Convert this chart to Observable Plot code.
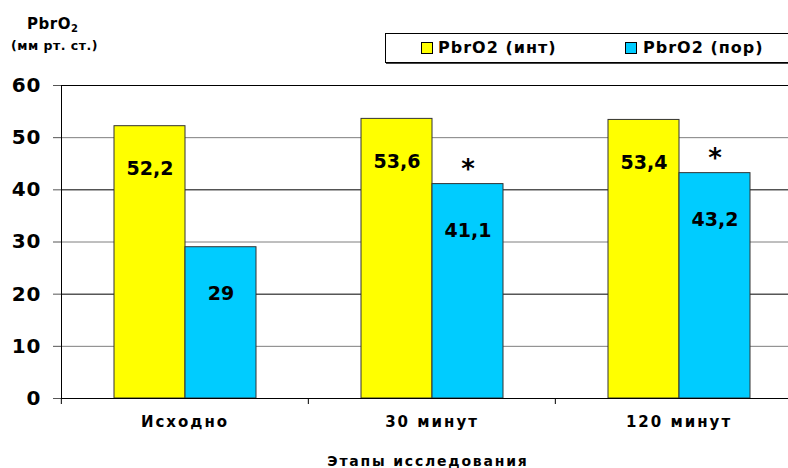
<!DOCTYPE html>
<html>
<head>
<meta charset="utf-8">
<script src="https://cdn.jsdelivr.net/npm/d3@7"></script>
<script src="https://cdn.jsdelivr.net/npm/@observablehq/plot@0.6"></script>
<style>
  html, body { margin: 0; padding: 0; background: white; }
  #wrap { position: relative; width: 788px; height: 468px; overflow: hidden; font-family: "DejaVu Sans", sans-serif; font-weight: bold; color: #000; }
  #wrap svg { position: absolute; left: 0; top: 0; overflow: hidden; }
  .ov { position: absolute; white-space: nowrap; }
  #t1 { left: 27px; top: 15px; font-size: 15px; letter-spacing: 0.5px; }
  #t1 sub { font-size: 10px; vertical-align: -3px; }
  #t2 { left: 11px; top: 38px; font-size: 12.5px; letter-spacing: 0.5px; }
  #legend { left: 385px; top: 33px; width: 404px; height: 28px; border: 1px solid #000; box-shadow: 1px 1px 0 #444; background: white; }
  .sw { position: absolute; top: 8px; width: 10px; height: 10px; border: 1px solid #000; }
  .lt { position: absolute; top: 4px; font-size: 16px; letter-spacing: 1px; line-height: 19px; }
  #xt { left: 0; width: 856px; text-align: center; top: 453px; font-size: 14px; letter-spacing: 1.8px; }
  g[aria-label="fx-axis tick label"] text { letter-spacing: 2px; }
  g[aria-label="y-axis tick label"] text { letter-spacing: 1px; }
</style>
</head>
<body>
<div id="wrap">
  <div class="ov" id="t1">PbrO<sub>2</sub></div>
  <div class="ov" id="t2">(мм рт. ст.)</div>
  <div class="ov" id="legend">
    <div class="sw" style="left:35px;background:#FFFF00"></div>
    <div class="lt" style="left:52px">PbrO2 (инт)</div>
    <div class="sw" style="left:239px;background:#00CCFF"></div>
    <div class="lt" style="left:257px">PbrO2 (пор)</div>
  </div>
  <div class="ov" id="xt">Этапы исследования</div>
</div>
<script>
const stages = ["Исходно", "30 минут", "120 минут"];
const seriesNames = ["PbrO2 (инт)", "PbrO2 (пор)"];
const intValues = [52.2, 53.6, 53.4];
const porValues = [29, 41.1, 43.2];
const porMarks = ["", "*", "*"];
const yTicks = [0, 10, 20, 30, 40, 50, 60];
const darkGrid = [60, 40, 20];
const lightGrid = [50, 30, 10];
const colors = ["#FFFF00", "#00CCFF"];

const intRows = stages.map((s, i) => ({stage: s, series: seriesNames[0], value: intValues[i]}));
const porRows = stages.map((s, i) => ({stage: s, series: seriesNames[1], value: porValues[i], mark: porMarks[i]}));
const rows = intRows.concat(porRows);
const fmt = v => String(v).replace(".", ",");

const W = 788, ML = 60, MR = -14;
const bw = (W - ML - MR) / stages.length;

const chart = Plot.plot({
  width: W, height: 468,
  marginLeft: ML, marginRight: MR, marginTop: 85, marginBottom: 70,
  style: {fontFamily: "DejaVu Sans", fontWeight: "bold", background: "white", color: "black"},
  fx: {domain: stages, padding: 0, label: null},
  x: {domain: seriesNames, paddingInner: 0, paddingOuter: 0.727, axis: null},
  y: {domain: [0, 60], axis: null},
  color: {domain: seriesNames, range: colors},
  marks: [
    Plot.ruleY(lightGrid, {stroke: "#7f7f7f"}),
    Plot.ruleY(darkGrid, {stroke: "#000"}),
    Plot.barY(rows, {fx: "stage", x: "series", y: "value", fill: "series", stroke: "#333", strokeWidth: 1}),
    Plot.ruleY([0], {stroke: "#000"}),
    Plot.frame({anchor: "left", facetAnchor: "left", stroke: "#000"}),
    Plot.axisY({ticks: yTicks, tickSize: 8, tickPadding: 12, fontSize: 20, stroke: "#555", fill: "#000", label: null}),
    Plot.axisFx({anchor: "bottom", tickSize: 6, tickFormat: () => "", dx: -bw / 2, stroke: "#000", label: null}),
    Plot.axisFx({anchor: "bottom", tickSize: 0, tickPadding: 18, fontSize: 15, fill: "#000", label: null}),
    Plot.text(intRows, {fx: "stage", x: "series", y: "value", text: d => fmt(d.value), dy: 43, fontSize: 19, fill: "#000"}),
    Plot.text(porRows, {fx: "stage", x: "series", y: "value", text: d => fmt(d.value), dy: 47, fontSize: 19, fill: "#000"}),
    Plot.text(porRows, {fx: "stage", x: "series", y: "value", text: "mark", dy: -14, fontSize: 26, fill: "#000"})
  ]
});
document.getElementById("wrap").prepend(chart);
</script>
</body>
</html>
